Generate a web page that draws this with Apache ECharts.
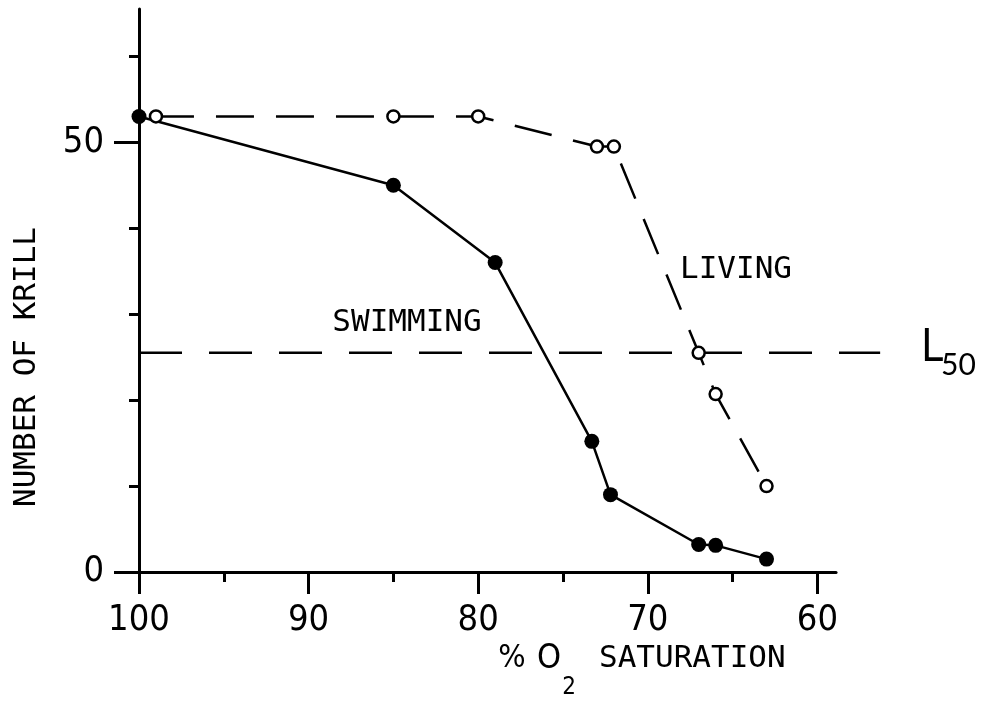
<!DOCTYPE html>
<html>
<head>
<meta charset="utf-8">
<script src="https://cdn.jsdelivr.net/npm/echarts@6/dist/echarts.min.js"></script>
<style>html,body{margin:0;padding:0;background:#fff}#c{width:981px;height:702px}</style>
</head>
<body>
<div id="c"></div>
<script>
// ---- data ----
var swimX = [100, 85, 79, 73.3, 72.2, 67, 66, 63];
var swimY = [53, 45, 36, 15.2, 9, 3.2, 3.1, 1.5];
var liveX = [99, 85, 80, 73, 72, 67, 66, 63];
var liveY = [53, 53, 53, 49.5, 49.5, 25.5, 20.7, 10];
var l50X = [100, 56.3];
var l50Y = [25.5, 25.5];
var xMajorTicks = [100, 90, 80, 70, 60];
var xMinorTicks = [95, 85, 75, 65];
var yMajorTicks = [0, 50];
var yMinorTicks = [10, 20, 30, 40, 60];

function pairs(xs, ys) { return xs.map(function (x, i) { return [x, ys[i]]; }); }

var NARROW = "'Liberation Sans Narrow', 'DejaVu Sans Condensed', sans-serif";
var MONO = "'DejaVu Sans Mono', 'Liberation Mono', monospace";

var X_MIN = 58.9, X_MAX = 100, Y_MIN = 0, Y_MAX = 65.5;
var PX_PER_X = 16.96;            // pixels per % unit on the x axis
var GRID_LEFT = 139, GRID_TOP = 9, GRID_BOTTOM = 130;
var GRID_RIGHT = 981 - (GRID_LEFT + (X_MAX - X_MIN) * PX_PER_X);
// second (invisible) grid with the same scale, extended so the L50 reference line can run past the axis end
var L50_MIN = Math.min.apply(null, l50X);
var GRID2_RIGHT = 981 - (GRID_LEFT + (X_MAX - L50_MIN) * PX_PER_X);

var chart = echarts.init(document.getElementById('c'), null, {renderer: 'canvas'});
var xBase = {
  type: 'value', inverse: true, min: X_MIN, max: X_MAX, gridIndex: 0, position: 'bottom',
  splitLine: {show: false}
};
var yBase = {
  type: 'value', min: Y_MIN, max: Y_MAX, gridIndex: 0, position: 'left',
  splitLine: {show: false}
};
var hidden = {show: false, splitLine: {show: false}};
chart.setOption({
  animation: false,
  backgroundColor: '#fff',
  grid: [
    {left: GRID_LEFT, right: GRID_RIGHT, top: GRID_TOP, bottom: GRID_BOTTOM},
    {left: GRID_LEFT, right: GRID2_RIGHT, top: GRID_TOP, bottom: GRID_BOTTOM}
  ],
  xAxis: [
    Object.assign({}, xBase, {
      axisLine: {show: true, onZero: false, lineStyle: {color: '#000', width: 3}},
      axisTick: {show: true, customValues: xMajorTicks, length: 22, lineStyle: {color: '#000', width: 3}},
      axisLabel: {show: true, customValues: xMajorTicks, margin: 31, color: '#000',
        fontSize: 36, fontFamily: NARROW}
    }),
    Object.assign({}, xBase, {
      axisLine: {show: false},
      axisTick: {show: true, customValues: xMinorTicks, length: 10, lineStyle: {color: '#000', width: 3}},
      axisLabel: {show: false}
    }),
    Object.assign({type: 'value', inverse: true, min: L50_MIN, max: X_MAX, gridIndex: 1}, hidden)
  ],
  yAxis: [
    Object.assign({}, yBase, {
      axisLine: {show: true, onZero: false, lineStyle: {color: '#000', width: 3}},
      axisTick: {show: true, customValues: yMajorTicks, length: 25, lineStyle: {color: '#000', width: 3}},
      axisLabel: {show: true, customValues: yMajorTicks, margin: 35, color: '#000',
        fontSize: 36, fontFamily: NARROW}
    }),
    Object.assign({}, yBase, {
      axisLine: {show: false},
      axisTick: {show: true, customValues: yMinorTicks, length: 10, lineStyle: {color: '#000', width: 3}},
      axisLabel: {show: false}
    }),
    Object.assign({type: 'value', min: Y_MIN, max: Y_MAX, gridIndex: 1}, hidden)
  ],
  series: [
    {
      name: 'L50', type: 'line', xAxisIndex: 2, yAxisIndex: 2,
      data: pairs(l50X, l50Y), showSymbol: false, symbol: 'none', z: 1,
      lineStyle: {color: '#000', width: 2.5, type: [43, 27]}
    },
    {
      name: 'SWIMMING', type: 'line', xAxisIndex: 0, yAxisIndex: 0, clip: false,
      data: pairs(swimX, swimY), symbol: 'circle', symbolSize: 15, z: 3,
      itemStyle: {color: '#000', borderColor: '#000', borderWidth: 0},
      lineStyle: {color: '#000', width: 2.5}
    },
    {
      name: 'LIVING', type: 'line', xAxisIndex: 0, yAxisIndex: 0, clip: false,
      data: pairs(liveX, liveY), symbol: 'circle', symbolSize: 12, z: 4,
      itemStyle: {color: '#fff', borderColor: '#000', borderWidth: 2.5},
      lineStyle: {color: '#000', width: 2.5, type: [38, 22]}
    }
  ],
  graphic: [
    {type: 'text', x: 27, y: 367, rotation: Math.PI / 2,
      style: {text: 'NUMBER OF KRILL', font: '31px ' + MONO, fill: '#000', textAlign: 'center', align: 'center', textVerticalAlign: 'middle', verticalAlign: 'middle'}},
    {type: 'text', x: 407, y: 323,
      style: {text: 'SWIMMING', font: '31px ' + MONO, fill: '#000', textAlign: 'center', align: 'center', textVerticalAlign: 'middle', verticalAlign: 'middle'}},
    {type: 'text', x: 736, y: 270,
      style: {text: 'LIVING', font: '31px ' + MONO, fill: '#000', textAlign: 'center', align: 'center', textVerticalAlign: 'middle', verticalAlign: 'middle'}},
    {type: 'text', x: 921, y: 350,
      style: {text: 'L', font: '44px ' + NARROW, fill: '#000', textAlign: 'left', align: 'left', textVerticalAlign: 'middle', verticalAlign: 'middle'}},
    {type: 'text', x: 941, y: 365,
      style: {text: '50', font: '30px Lato, "Noto Sans", sans-serif', fill: '#000', textAlign: 'left', align: 'left', textVerticalAlign: 'middle', verticalAlign: 'middle'}},
    {type: 'text', x: 512, y: 659,
      style: {text: '%', font: '32px ' + NARROW, fill: '#000', textAlign: 'center', align: 'center', textVerticalAlign: 'middle', verticalAlign: 'middle'}},
    {type: 'text', x: 549, y: 659,
      style: {text: 'O', font: '34px ' + NARROW, fill: '#000', textAlign: 'center', align: 'center', textVerticalAlign: 'middle', verticalAlign: 'middle'}},
    {type: 'text', x: 569, y: 688,
      style: {text: '2', font: '24px ' + NARROW, fill: '#000', textAlign: 'center', align: 'center', textVerticalAlign: 'middle', verticalAlign: 'middle'}},
    {type: 'text', x: 599, y: 659,
      style: {text: 'SATURATION', font: '31px ' + MONO, fill: '#000', textAlign: 'left', align: 'left', textVerticalAlign: 'middle', verticalAlign: 'middle'}}
  ]
});
</script>
</body>
</html>
